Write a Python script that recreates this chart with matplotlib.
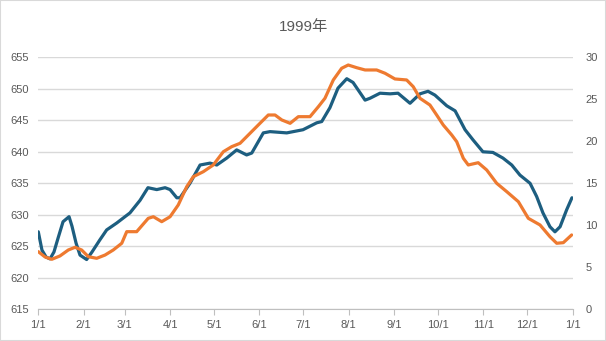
import matplotlib.pyplot as plt
from matplotlib.patches import Rectangle

plt.rcParams['font.family'] = ['Liberation Sans', 'Noto Sans CJK SC', 'DejaVu Sans']

# days counted from 1 Jan 1999
blue_days = [0, 2.5, 5.3, 8, 10.7, 13.5, 16.9, 21, 23, 25.8, 28.5, 33, 36.7, 42, 46.7,
             53.6, 62.6, 69.5, 74.9, 80.9, 86.6, 90, 94.6, 96.8, 103.6, 110.5, 117.3,
             121.9, 128.7, 135.5, 142.3, 145.8, 153.7, 158.3, 169.7, 180.8, 190.2, 193.6,
             199.2, 204.7, 210.7, 215, 223.2, 226.6, 233.4, 240.3, 245.7, 253.9, 260.7,
             266.2, 270.9, 279, 284.7, 291.5, 296.9, 303.7, 310.5, 317.4, 323.4, 329,
             335.9, 340.4, 344.7, 349.5, 352.9, 356.4, 360.9, 364.5]
blue_vals = [627.3, 624.4, 623.3, 623.0, 624.1, 626.3, 628.9, 629.7, 628.2, 625.5, 623.6,
             622.9, 624.1, 626.0, 627.6, 628.7, 630.3, 632.3, 634.3, 634.0, 634.3, 634.0,
             632.7, 632.7, 635.0, 637.9, 638.2, 637.9, 639.0, 640.3, 639.5, 639.8, 643.0,
             643.2, 643.0, 643.5, 644.6, 644.8, 647.0, 650.1, 651.6, 651.0, 648.2, 648.5,
             649.3, 649.2, 649.3, 647.7, 649.2, 649.6, 649.0, 647.3, 646.5, 643.5, 641.9,
             640.0, 639.9, 639.0, 637.9, 636.3, 635.0, 632.9, 630.3, 628.1, 627.3, 628.1,
             630.8, 632.7]

orange_days = [0, 4.6, 9.2, 14.8, 20.5, 25.1, 29.6, 34.2, 39.9, 45.6, 51.2, 57, 60.4, 67.2,
               75.1, 78.6, 84.3, 90, 95.6, 101.4, 105.9, 112.7, 119.5, 126.4, 132.1, 137.8,
               144.6, 151.4, 157.1, 161.7, 166.3, 172, 177.6, 185.6, 191.3, 195.8, 201.5,
               207.2, 211.7, 217.5, 223.2, 231.1, 236.8, 243.6, 251.6, 256.1, 260.7, 267.5,
               272.1, 276.6, 282.4, 285.8, 290.3, 293.7, 300.5, 306.3, 313.1, 320, 327.9,
               334.7, 342.7, 349.5, 354.1, 358.6, 364.3]
orange_vals = [6.86, 6.23, 5.95, 6.35, 7.06, 7.38, 7.06, 6.26, 6.07, 6.46, 7.06, 7.86, 9.24,
               9.24, 10.83, 11.02, 10.43, 11.02, 12.42, 14.6, 15.79, 16.38, 17.18, 18.76,
               19.36, 19.76, 20.95, 22.14, 23.13, 23.13, 22.54, 22.14, 22.93, 22.93, 24.12,
               25.12, 27.3, 28.69, 29.08, 28.76, 28.49, 28.49, 28.1, 27.42, 27.3, 26.5,
               25.12, 24.32, 23.13, 21.94, 20.75, 19.95, 17.98, 17.18, 17.45, 16.58, 15.0,
               14.0, 12.81, 10.83, 10.04, 8.64, 7.86, 7.93, 8.85]

month_days = [0, 31, 59, 90, 120, 151, 181, 212, 243, 273, 304, 334, 365]
month_labels = ['1/1', '2/1', '3/1', '4/1', '5/1', '6/1', '7/1', '8/1', '9/1',
                '10/1', '11/1', '12/1', '1/1']

text_color = '#595959'
grid_color = '#d9d9d9'

fig = plt.figure(figsize=(6.06, 3.41), dpi=100)
ax = fig.add_axes([0.0632, 0.093, 0.8818, 0.739])
ax2 = ax.twinx()

ax.plot(blue_days, blue_vals, color='#1d5e80', linewidth=2.3,
        solid_joinstyle='round', solid_capstyle='round', zorder=3)
ax2.plot(orange_days, orange_vals, color='#ee7a30', linewidth=2.3,
         solid_joinstyle='round', solid_capstyle='round', zorder=3)

ax.set_xlim(0, 365)
ax.set_ylim(615, 655)
ax.set_yticks(range(615, 656, 5))
ax2.set_ylim(0, 30)
ax2.set_yticks(range(0, 31, 5))

ax.set_xticks(month_days)
ax.set_xticklabels(month_labels)

ax.grid(axis='y', color=grid_color, linewidth=1)
ax.set_axisbelow(True)

for a in (ax, ax2):
    for side in ('top', 'left', 'right'):
        a.spines[side].set_visible(False)
    a.spines['bottom'].set_visible(False)
ax.spines['bottom'].set_visible(True)
ax.spines['bottom'].set_color('#bfbfbf')

ax.tick_params(axis='x', length=4, color='#bfbfbf', pad=4, labelsize=8, labelcolor=text_color)
ax.tick_params(axis='y', length=0, pad=7, labelsize=8, labelcolor=text_color)
ax2.tick_params(axis='y', length=0, pad=9, labelsize=8, labelcolor=text_color)

fig.text(0.5, 0.92, '1999年', ha='center', va='center', fontsize=11, color=text_color)

fig.patches.append(Rectangle((0, 0), 1, 1, transform=fig.transFigure, fill=False,
                             edgecolor=grid_color, linewidth=1.5))

fig.savefig('out.png', dpi=100)
